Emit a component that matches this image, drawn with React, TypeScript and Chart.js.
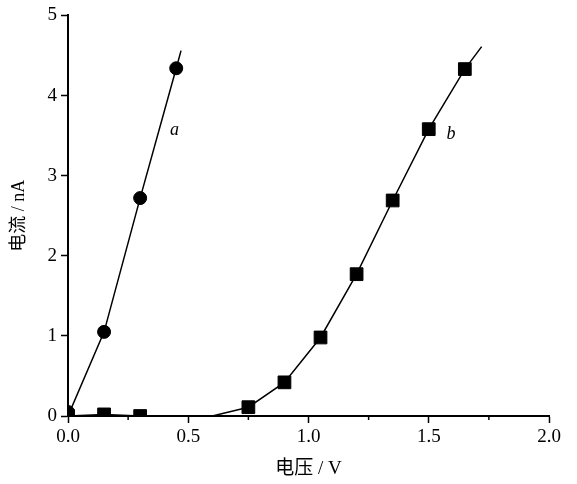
import React, { useEffect, useRef } from "react";
import { Chart, registerables } from "chart.js";

Chart.register(...registerables);

// Series a (circles)
const aX = [0, 0.15, 0.3, 0.45];
const aY = [0.05, 1.05, 2.72, 4.34];
// Fitted line a (passes through data, extended)
const aLineX = [0, 0.15, 0.3, 0.45, 0.47];
const aLineY = [0, 1.05, 2.72, 4.34, 4.56];

// Series b (squares)
const bX = [0, 0.15, 0.3, 0.75, 0.9, 1.05, 1.2, 1.35, 1.5, 1.65];
const bY = [0.0, 0.02, 0.0, 0.11, 0.42, 0.98, 1.77, 2.69, 3.58, 4.33];
// Fitted curve b
const bLineX = [0, 0.15, 0.3, 0.6, 0.75, 0.9, 1.05, 1.2, 1.35, 1.5, 1.65, 1.72];
const bLineY = [0, 0.02, 0.0, 0.0, 0.11, 0.42, 0.98, 1.77, 2.69, 3.58, 4.33, 4.61];

const xTicks = [0, 0.5, 1.0, 1.5, 2.0];
const xMinorTicks = [0.25, 0.75, 1.25, 1.75];
const yTicks = [0, 1, 2, 3, 4, 5];

const curveLabels = ["a", "b"];
const curveLabelX = [0.443, 1.593];
const curveLabelY = [3.57, 3.52];

const FONT = "'Liberation Serif', 'Noto Sans CJK SC', serif";

const toPts = (xs: number[], ys: number[]) => xs.map((x, i) => ({ x, y: ys[i] }));

const extrasPlugin = {
  id: "extras",
  afterDraw(chart: any) {
    const { ctx, scales } = chart;
    const xs = scales.x;
    const ys = scales.y;
    ctx.save();
    ctx.strokeStyle = "#000";
    ctx.lineWidth = 1.5;
    xMinorTicks.forEach((v) => {
      const px = xs.getPixelForValue(v);
      ctx.beginPath();
      ctx.moveTo(px, ys.bottom);
      ctx.lineTo(px, ys.bottom + 4);
      ctx.stroke();
    });
    ctx.fillStyle = "#000";
    ctx.font = "italic 18px " + FONT;
    ctx.textAlign = "center";
    ctx.textBaseline = "middle";
    curveLabels.forEach((t, i) => {
      ctx.fillText(t, xs.getPixelForValue(curveLabelX[i]), ys.getPixelForValue(curveLabelY[i]));
    });
    ctx.restore();
  },
};

export default function App() {
  const ref = useRef<HTMLCanvasElement | null>(null);
  useEffect(() => {
    if (!ref.current) return;
    const chart = new Chart(ref.current, {
      type: "scatter",
      data: {
        datasets: [
          {
            data: toPts(aLineX, aLineY),
            showLine: true,
            borderColor: "#000",
            borderWidth: 1.5,
            pointRadius: 0,
            tension: 0,
          },
          {
            data: toPts(bLineX, bLineY),
            showLine: true,
            borderColor: "#000",
            borderWidth: 1.5,
            pointRadius: 0,
            tension: 0,
          },
          {
            data: toPts(aX, aY),
            pointStyle: "circle",
            pointRadius: 6.5,
            backgroundColor: "#000",
            borderColor: "#000",
            showLine: false,
          },
          {
            data: toPts(bX, bY),
            pointStyle: "rect",
            pointRadius: 9,
            backgroundColor: "#000",
            borderColor: "#000",
            showLine: false,
          },
        ],
      } as any,
      options: {
        animation: false,
        responsive: false,
        maintainAspectRatio: false,
        layout: { padding: { top: 14, right: 28, left: 0, bottom: 0 } },
        plugins: { legend: { display: false }, tooltip: { enabled: false } },
        scales: {
          x: {
            type: "linear",
            min: 0,
            max: 2,
            afterBuildTicks: (s: any) => {
              s.ticks = xTicks.map((v) => ({ value: v }));
            },
            afterFit: (s: any) => {
              s.height = 68;
            },
            ticks: {
              color: "#000",
              font: { family: FONT, size: 19 },
              padding: 3,
              maxRotation: 0,
              callback: (v: any) => Number(v).toFixed(1),
            },
            grid: {
              drawOnChartArea: false,
              drawTicks: true,
              tickLength: 7,
              tickColor: "#000",
              tickWidth: 1.5,
            },
            border: { display: true, color: "#000", width: 2 },
            title: {
              display: true,
              text: "电压 / V",
              color: "#000",
              font: { family: FONT, size: 19 },
              padding: { top: 0 },
            },
          },
          y: {
            type: "linear",
            min: 0,
            max: 5,
            afterBuildTicks: (s: any) => {
              s.ticks = yTicks.map((v) => ({ value: v }));
            },
            afterFit: (s: any) => {
              s.width = 68;
            },
            ticks: {
              color: "#000",
              font: { family: FONT, size: 19 },
              padding: 4,
              callback: (v: any) => String(v),
            },
            grid: {
              drawOnChartArea: false,
              drawTicks: true,
              tickLength: 7,
              tickColor: "#000",
              tickWidth: 1.5,
            },
            border: { display: true, color: "#000", width: 2 },
            title: {
              display: true,
              text: "电流 / nA",
              color: "#000",
              font: { family: FONT, size: 18 },
              padding: { top: 8, bottom: 0 },
            },
          },
        },
      } as any,
      plugins: [extrasPlugin],
    });
    return () => chart.destroy();
  }, []);
  return (
    <div style={{ position: "absolute", left: 0, top: 0, width: 577, height: 484, background: "#fff" }}>
      <canvas ref={ref} width={577} height={484} style={{ width: 577, height: 484 }} />
    </div>
  );
}
